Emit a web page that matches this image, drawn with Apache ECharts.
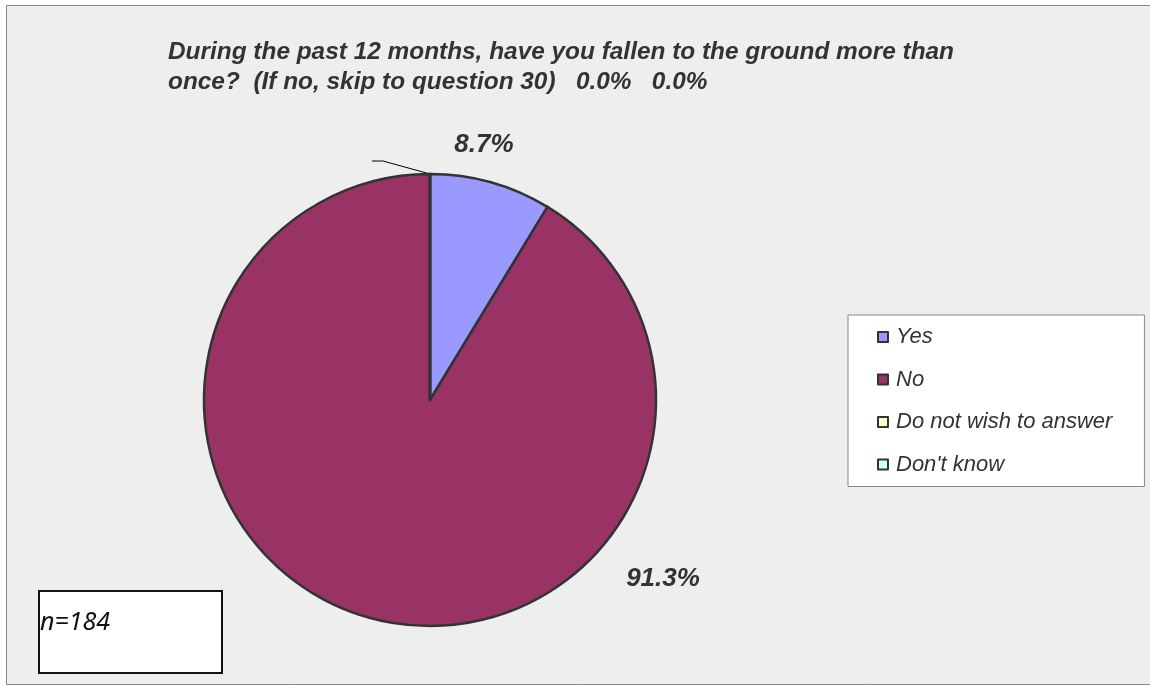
<!DOCTYPE html>
<html>
<head>
<meta charset="utf-8">
<script src="https://cdn.jsdelivr.net/npm/echarts@6/dist/echarts.min.js"></script>
<style>
html,body{margin:0;padding:0;background:#fff;}
#chart{width:1150px;height:686px;}
</style>
</head>
<body>
<div id="chart"></div>
<script>
const categories = ['Yes', 'No', 'Do not wish to answer', "Don't know"];
const values = [8.7, 91.3, 0.0, 0.0];
const colors = ['#9999FF', '#993366', '#FFFFCC', '#CCFFFF'];
const titleText = 'During the past 12 months, have you fallen to the ground more than\nonce?  (If no, skip to question 30)   0.0%   0.0%';
const sampleText = 'n=184';

const chart = echarts.init(document.getElementById('chart'));
const labelSpots = {0: [484, 145], 1: [663, 579]};
chart.setOption({
  animation: false,
  backgroundColor: '#ffffff',
  title: {
    text: titleText,
    left: 163, top: 32,
    textStyle: {
      fontFamily: '"Liberation Sans", Arial, sans-serif',
      fontSize: 24.4, fontStyle: 'italic', fontWeight: 'bold', color: '#333333', lineHeight: 30
    }
  },
  graphic: [
    {type: 'rect', z: -10, silent: true, shape: {x: 6.5, y: 5.5, width: 1160, height: 679},
      style: {fill: '#eeeeee', stroke: '#888888', lineWidth: 1}},
    {type: 'rect', z: 10, shape: {x: 39, y: 591, width: 183, height: 82},
      style: {fill: '#ffffff', stroke: '#111111', lineWidth: 2}},
    {type: 'text', z: 11, left: 40, top: 610,
      style: {text: sampleText, fontFamily: '"Noto Sans", "Open Sans", sans-serif', fontSize: 25, fontStyle: 'italic', fill: '#111111'}}
  ],
  legend: {
    orient: 'vertical',
    left: 848, top: 315,
    data: categories,
    backgroundColor: '#ffffff',
    borderColor: '#888888', borderWidth: 1,
    padding: [11, 32, 11, 29],
    itemWidth: 10, itemHeight: 10, itemGap: 20.5,
    icon: 'rect',
    itemStyle: {borderColor: '#333333', borderWidth: 2},
    textStyle: {fontFamily: '"Liberation Sans", Arial, sans-serif', fontSize: 22, fontStyle: 'italic', color: '#333333', lineHeight: 20, padding: [0, 0, 0, 3]}
  },
  series: [{
    type: 'pie',
    center: [430, 400],
    radius: 226,
    startAngle: 90,
    clockwise: true,
    avoidLabelOverlap: false,
    data: categories.map((c, i) => ({
      name: c, value: values[i],
      itemStyle: {color: colors[i]},
      label: {show: i < 3, formatter: i < 2 ? (values[i].toFixed(1) + '%') : ' '},
      labelLine: {show: i === 2, lineStyle: {color: '#000000', width: 1}}
    })),
    itemStyle: {borderColor: '#333333', borderWidth: 2.5},
    label: {
      position: 'outside',
      fontFamily: '"Liberation Sans", Arial, sans-serif',
      fontSize: 26, fontStyle: 'italic', fontWeight: 'bold', color: '#333333'
    },
    labelLine: {show: false},
    labelLayout: function (p) {
      if (labelSpots[p.dataIndex]) {
        const s = labelSpots[p.dataIndex];
        return {x: s[0], y: s[1], align: 'center', verticalAlign: 'middle'};
      }
      if (p.dataIndex === 2 && p.labelLinePoints) {
        const a = p.labelLinePoints[0];
        return {labelLinePoints: [a, [a[0] - 47, a[1] - 13], [a[0] - 58, a[1] - 13]]};
      }
      return {};
    }
  }]
});
</script>
</body>
</html>
